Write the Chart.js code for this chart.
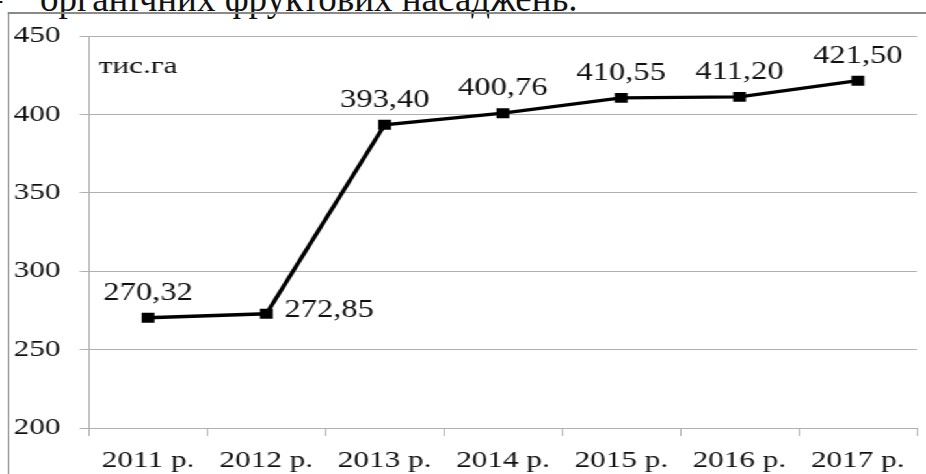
<!DOCTYPE html>
<html>
<head>
<meta charset="utf-8">
<script src="https://cdn.jsdelivr.net/npm/chart.js@4.4.1/dist/chart.umd.min.js"></script>
<style>
  html, body { margin: 0; padding: 0; background: #fff; overflow: hidden; }
  #wrap {
    position: absolute; left: 0; top: 0; width: 712px; height: 474px;
    transform: scaleX(1.3006); transform-origin: 0 0;
  }
  .head {
    position: absolute; top: -20px; white-space: pre;
    font-family: "Liberation Serif", serif; font-size: 37px; line-height: 37px; color: #111;
  }
  #frame {
    position: absolute; left: 6.3px; top: 12px; right: -20px; bottom: -20px;
    border-left: 1.6px solid #7f7f7f; border-top: 2px solid #8a8a8a;
  }
  #chart { position: absolute; left: 0; top: 0; }
</style>
</head>
<body>
<div class="head" style="left:-16.5px">–</div>
<div class="head" style="left:40px">органічних фруктових насаджень.</div>
<div id="wrap">
  <div id="frame"></div>
  <canvas id="chart" width="712" height="474"></canvas>
</div>
<script>
const years = ['2011 р.', '2012 р.', '2013 р.', '2014 р.', '2015 р.', '2016 р.', '2017 р.'];
const area = [270.32, 272.85, 393.40, 400.76, 410.55, 411.20, 421.50];
const valueLabels = ['270,32', '272,85', '393,40', '400,76', '410,55', '411,20', '421,50'];
const unitLabel = 'тис.га';

const SERIF = '"Liberation Serif", "Times New Roman", serif';
const GRID = '#b0b0b0';
const TEXT = '#111';

// labels above the points, except 2012 which sits to the right
const pointLabels = {
    id: 'pointLabels',
    afterDatasetsDraw(chart) {
        const ctx = chart.ctx;
        const meta = chart.getDatasetMeta(0);
        ctx.save();
        ctx.fillStyle = TEXT;
        ctx.font = '25px ' + SERIF;
        ctx.textBaseline = 'alphabetic';
        meta.data.forEach((pt, i) => {
            if (i === 1) {
                ctx.textAlign = 'left';
                ctx.fillText(valueLabels[i], pt.x + 14, pt.y + 3);
            } else {
                ctx.textAlign = 'center';
                ctx.fillText(valueLabels[i], pt.x, pt.y - 18);
            }
        });
        ctx.font = '24px ' + SERIF;
        ctx.textAlign = 'left';
        ctx.fillText(unitLabel, chart.chartArea.left + 7.5, chart.chartArea.top + 37);
        ctx.restore();
    }
};

new Chart(document.getElementById('chart'), {
    type: 'line',
    data: {
        labels: years,
        datasets: [{
            data: area,
            borderColor: '#000',
            borderWidth: 3.3,
            backgroundColor: '#000',
            pointStyle: 'rect',
            pointRadius: 7,
            pointBorderWidth: 0,
            pointBackgroundColor: '#000',
            tension: 0
        }]
    },
    options: {
        responsive: false,
        animation: false,
        layout: { padding: { left: 0, right: 6.2, top: 36, bottom: 0 } },
        plugins: {
            legend: { display: false },
            tooltip: { enabled: false }
        },
        scales: {
            x: {
                offset: true,
                grid: { offset: true, drawOnChartArea: false, tickLength: 8, color: GRID },
                border: { color: GRID },
                ticks: { color: TEXT, padding: 10, maxRotation: 0, font: { family: SERIF, size: 24 } },
                afterFit(scale) { scale.height = 46; }
            },
            y: {
                min: 200,
                max: 450,
                grid: { tickLength: 7, color: GRID },
                border: { color: GRID },
                ticks: { stepSize: 50, color: TEXT, padding: 15, font: { family: SERIF, size: 24 } },
                afterFit(scale) { scale.width = 68.4; }
            }
        }
    },
    plugins: [pointLabels]
});
</script>
</body>
</html>
